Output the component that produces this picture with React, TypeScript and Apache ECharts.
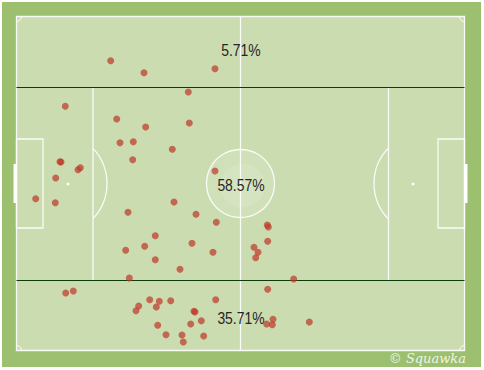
import React, { useEffect, useRef } from "react";
import * as echarts from "echarts";

// Pitch units: x 0..448 (left to right), y 0..334 (top to bottom)
const PITCH_W = 448;
const PITCH_H = 334;

const zoneLabels = ["5.71%", "58.57%", "35.71%"];
const zoneLabelY = [33.5, 168.5, 301.5];

const topZone: [number, number][] = [
  [94.2, 44.2], [127.5, 56.2], [198.5, 52.2],
];

const middleZone: [number, number][] = [
  [171.8, 75.5], [48.8, 89.8], [100.2, 102.5], [129.2, 110.5], [172.8, 106.5],
  [103.5, 126.2], [116.8, 125.2], [155.8, 132.8], [116.2, 143.2], [43.5, 145.2],
  [44.5, 145.5], [61.5, 153.2], [63.8, 151.2], [39.2, 161.5], [198.5, 154.5],
  [19.2, 182.2], [38.8, 186.2], [157.5, 185.5], [111.5, 195.8], [179.5, 197.8],
  [199.8, 205.8], [138.8, 219.2], [128.2, 229.8], [175.5, 226.8], [109.2, 233.8],
  [196.5, 235.8], [138.8, 243.2], [163.5, 252.8], [112.8, 261.5], [250.8, 208.5],
  [251.8, 210.5], [251.2, 224.8], [237.5, 230.8], [241.5, 235.8], [239.2, 241.2],
  [277.2, 262.5],
];

const bottomZone: [number, number][] = [
  [49.2, 276.5], [56.8, 274.5], [133.2, 283.2], [142.8, 284.8], [154.2, 284.2],
  [122.2, 289.5], [119.5, 294.2], [139.8, 290.5], [199.2, 283.2], [177.5, 294.8],
  [178.5, 295.5], [184.8, 304.2], [174.2, 307.5], [141.2, 308.8], [149.5, 318.2],
  [165.5, 318.5], [187.2, 319.5], [166.8, 325.5], [251.2, 272.8], [256.5, 302.8],
  [250.2, 307.5], [255.8, 308.2], [292.8, 305.5],
];

const OX = 16.5;
const OY = 16.5;

export default function App() {
  const ref = useRef<HTMLDivElement>(null);
  useEffect(() => {
    document.body.style.margin = "0";
    const chart = echarts.init(ref.current!, null, { renderer: "svg" });
    const W = "rgba(255,255,255,0.9)";
    const line = (x1: number, y1: number, x2: number, y2: number, stroke = W, lw = 1.3) => ({
      type: "line",
      silent: true,
      z: 0,
      shape: { x1: OX + x1, y1: OY + y1, x2: OX + x2, y2: OY + y2 },
      style: { stroke, lineWidth: lw },
    });
    const rectS = (x: number, y: number, w: number, h: number) => ({
      type: "rect",
      silent: true,
      z: 0,
      shape: { x: OX + x, y: OY + y, width: w, height: h },
      style: { fill: "none", stroke: W, lineWidth: 1.3 },
    });
    const midY = PITCH_H / 2;
    const graphics: any[] = [
      { type: "rect", z: -2, silent: true, shape: { x: 2, y: 2, width: 479, height: 365 }, style: { fill: "#9dc070" } },
      { type: "rect", z: -1, silent: true, shape: { x: OX, y: OY, width: PITCH_W, height: PITCH_H }, style: { fill: "#cadcb0", stroke: W, lineWidth: 1.3 } },
      line(224, 0, 224, PITCH_H),
      line(76.5, 71, 76.5, 264),
      line(372, 71, 372, 264),
      rectS(0, 122.5, 26.5, 89),
      rectS(421.5, 122.5, 26.5, 89),
      { type: "rect", z: 0, silent: true, shape: { x: 13.5, y: 164, width: 3.5, height: 39 }, style: { fill: "#ffffff" } },
      { type: "rect", z: 0, silent: true, shape: { x: 464, y: 164, width: 3.5, height: 39 }, style: { fill: "#ffffff" } },
      { type: "circle", z: 0, silent: true, shape: { cx: 68, cy: 184, r: 1.5 }, style: { fill: "#ffffff" } },
      { type: "circle", z: 0, silent: true, shape: { cx: 413, cy: 184, r: 1.5 }, style: { fill: "#ffffff" } },
      { type: "arc", z: 0, silent: true, shape: { cx: 56, cy: OY + midY, r: 51, startAngle: -0.76, endAngle: 0.76, clockwise: true }, style: { stroke: W, lineWidth: 1.3, fill: "none" } },
      { type: "arc", z: 0, silent: true, shape: { cx: 425, cy: OY + midY, r: 51, startAngle: Math.PI - 0.76, endAngle: Math.PI + 0.76, clockwise: true }, style: { stroke: W, lineWidth: 1.3, fill: "none" } },
      { type: "circle", z: 0, silent: true, shape: { cx: OX + 224, cy: OY + midY, r: 34 }, style: { fill: "rgba(255,255,255,0.12)", stroke: W, lineWidth: 1.3 } },
      { type: "circle", z: 0, silent: true, shape: { cx: OX + 226, cy: OY + midY + 2, r: 22 }, style: { fill: "rgba(255,255,255,0.12)" } },
      { type: "arc", z: 0, silent: true, shape: { cx: OX, cy: OY, r: 5, startAngle: 0, endAngle: Math.PI / 2, clockwise: true }, style: { stroke: W, lineWidth: 1, fill: "none" } },
      { type: "arc", z: 0, silent: true, shape: { cx: OX + PITCH_W, cy: OY, r: 5, startAngle: Math.PI / 2, endAngle: Math.PI, clockwise: true }, style: { stroke: W, lineWidth: 1, fill: "none" } },
      { type: "arc", z: 0, silent: true, shape: { cx: OX, cy: OY + PITCH_H, r: 5, startAngle: -Math.PI / 2, endAngle: 0, clockwise: true }, style: { stroke: W, lineWidth: 1, fill: "none" } },
      { type: "arc", z: 0, silent: true, shape: { cx: OX + PITCH_W, cy: OY + PITCH_H, r: 5, startAngle: Math.PI, endAngle: Math.PI * 1.5, clockwise: true }, style: { stroke: W, lineWidth: 1, fill: "none" } },
      line(0, 71, PITCH_W, 71, "#0d3b0d", 1.2),
      line(0, 264, PITCH_W, 264, "#0d3b0d", 1.2),
      ...zoneLabels.map((t, i) => ({
        type: "text",
        z: 1,
        silent: true,
        x: OX + 224.5,
        y: OY + zoneLabelY[i],
        scaleX: 0.82,
        style: {
          text: t,
          fill: "#262626",
          font: '17px "Liberation Sans", Arial, sans-serif',
          align: "center",
          verticalAlign: "middle",
        },
      })),
      {
        type: "text",
        z: 1,
        silent: true,
        x: 466,
        y: 358.5,
        style: {
          text: "© Squawka",
          fill: "rgba(255,255,255,0.85)",
          font: 'italic 13px "DejaVu Serif", serif',
          align: "right",
          verticalAlign: "middle",
        },
      },
    ];

    const dotStyle = { color: "#bf3a2b", opacity: 0.72 };
    chart.setOption({
      animation: false,
      grid: { left: OX, top: OY, width: PITCH_W, height: PITCH_H },
      xAxis: { type: "value", min: 0, max: PITCH_W, show: false },
      yAxis: { type: "value", min: 0, max: PITCH_H, inverse: true, show: false },
      graphic: graphics,
      series: [topZone, middleZone, bottomZone].map((d, i) => ({
        type: "scatter",
        name: ["top", "middle", "bottom"][i],
        data: d,
        symbolSize: 7,
        itemStyle: dotStyle,
        z: 3,
        silent: true,
      })),
    });
    return () => chart.dispose();
  }, []);
  return <div ref={ref} style={{ width: 484, height: 370 }} />;
}
